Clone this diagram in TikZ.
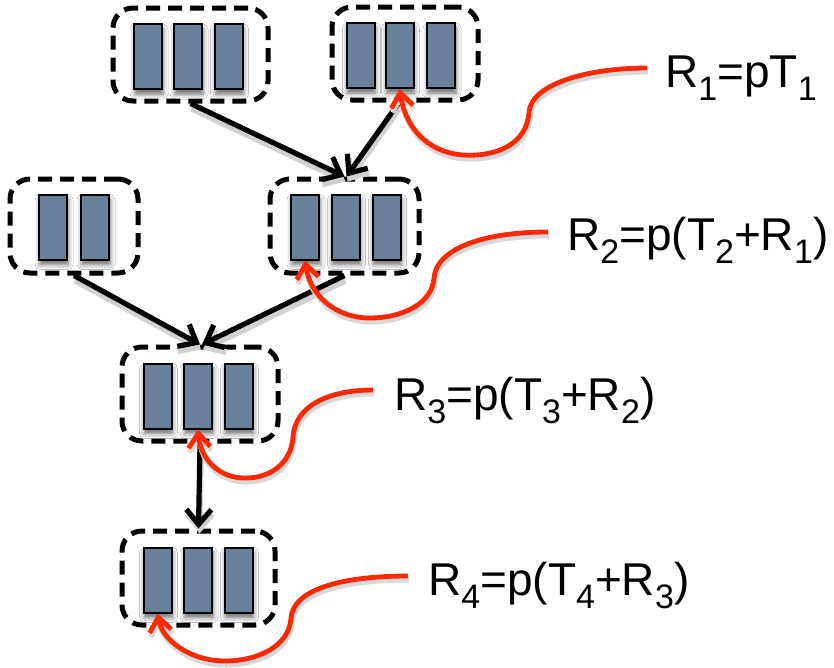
\documentclass[tikz,border=0pt]{standalone}
\usepackage{fontspec}
\setmainfont{Liberation Sans}
\usetikzlibrary{arrows.meta,shadows.blur,backgrounds}
\definecolor{boxfill}{RGB}{104,128,153}
\definecolor{redline}{RGB}{255,40,0}
\newcommand\lsub[1]{\raisebox{-13pt}{\fontsize{34}{34}\selectfont #1}}
\begin{document}
\begin{tikzpicture}[x=1pt,y=-1pt,
  cell/.style={draw=black, line width=2pt, fill=boxfill, minimum width=28pt, minimum height=65pt, inner sep=0pt,
    blur shadow={shadow xshift=1pt, shadow yshift=-5pt, shadow opacity=60, shadow blur radius=5pt}},
  group/.style={draw=black, line width=5pt, dash pattern=on 14pt off 8pt, rounded corners=20pt, inner sep=0pt},
  gshadow/.style={draw=black!15, line width=6pt, dash pattern=on 14pt off 8pt, rounded corners=20pt},
  arr/.style={draw=black, line width=5.2pt, -{Straight Barb[length=15pt,width=25pt]},
    preaction={draw=black!18, line width=6pt, transform canvas={shift={(1pt,-5pt)}}}},
  rarr/.style={draw=redline, line width=4.8pt, -{Straight Barb[length=14pt,width=22pt]},
    preaction={draw=black!15, line width=5pt, transform canvas={shift={(1pt,-4pt)}}}},
  lbl/.style={anchor=base west, inner sep=0pt, font=\fontsize{46}{50}\selectfont}]
\useasboundingbox (0,0) rectangle (834,667);
\fill[white] (0,0) rectangle (834,667);

% cells
\node[cell] (b11) at (148,56.5) {};
\node[cell] (b12) at (188,56.5) {};
\node[cell] (b13) at (228.5,56.5) {};
\node[cell] (b21) at (360.5,55.5) {};
\node[cell] (b22) at (399.5,55.5) {};
\node[cell] (b23) at (441,55.5) {};
\node[cell] (b31) at (305,227) {};
\node[cell] (b32) at (345.5,227) {};
\node[cell] (b33) at (386.5,227) {};
\node[cell] (b41) at (53,227) {};
\node[cell] (b42) at (95,227) {};
\node[cell] (b51) at (157.5,396) {};
\node[cell] (b52) at (198,396) {};
\node[cell] (b53) at (238.5,396) {};
\node[cell] (b61) at (157.5,580) {};
\node[cell] (b62) at (198,580) {};
\node[cell] (b63) at (238.5,580) {};

% groups
\node[group, minimum width=155pt, minimum height=93pt] (G1) at (190.5,54.5) {};
\node[group, minimum width=146pt, minimum height=93pt] (G2) at (405,53.5) {};
\node[group, minimum width=149pt, minimum height=94pt] (G3) at (344.5,226) {};
\node[group, minimum width=128pt, minimum height=94pt] (G4) at (74,226) {};
\node[group, minimum width=156pt, minimum height=94pt] (G5) at (200,394) {};
\node[group, minimum width=153pt, minimum height=94pt] (G6) at (198.5,578) {};

\begin{scope}[on background layer]
  \foreach \g in {G1,G2,G3,G4,G5,G6}
    \path[gshadow] ([shift={(1,6)}]\g.north west) rectangle ([shift={(1,6)}]\g.south east);
\end{scope}

% black arrows
\draw[arr] (G1.south) -- (G3.north);
\draw[arr] ([xshift=-6pt]G2.south) -- ([xshift=2pt]G3.north);
\draw[arr] (G4.south) -- (G5.north);
\draw[arr] (G3.south) -- ([xshift=2pt]G5.north);
\draw[arr] (G5.south) -- (G6.north);

% labels
\node[lbl] (L1) at (665,87) {R\lsub{1}=pT\lsub{1}};
\node[lbl] (L2) at (567,250) {R\lsub{2}=p(T\lsub{2}+R\lsub{1})};
\node[lbl] (L3) at (394,410) {R\lsub{3}=p(T\lsub{3}+R\lsub{2})};
\node[lbl] (L4) at (428,595) {R\lsub{4}=p(T\lsub{4}+R\lsub{3})};

\coordinate (s1) at (647,68);
\coordinate (s2) at (548,232);
\coordinate (s3) at (373,390);
\coordinate (s4) at (408,576);

% red curves
\draw[rarr] (s1) .. controls (585,68) and (531,85) .. (529,112)
  .. controls (527,145) and (495,157) .. (463,155)
  .. controls (425,152) and (405,125) .. (b22.south);
\draw[rarr] (s2) .. controls (480,232) and (436,250) .. (434,278)
  .. controls (432,305) and (400,318) .. (370,318)
  .. controls (335,318) and (310,295) .. (b31.south);
\draw[rarr] (s3) .. controls (330,390) and (295,405) .. (293,437)
  .. controls (291,465) and (268,479) .. (243,478)
  .. controls (215,477) and (200,455) .. (b52.south);
\draw[rarr] (s4) .. controls (340,576) and (293,590) .. (291,618)
  .. controls (289,648) and (255,661) .. (225,661)
  .. controls (190,661) and (162,640) .. (b61.south);
\end{tikzpicture}
\end{document}
